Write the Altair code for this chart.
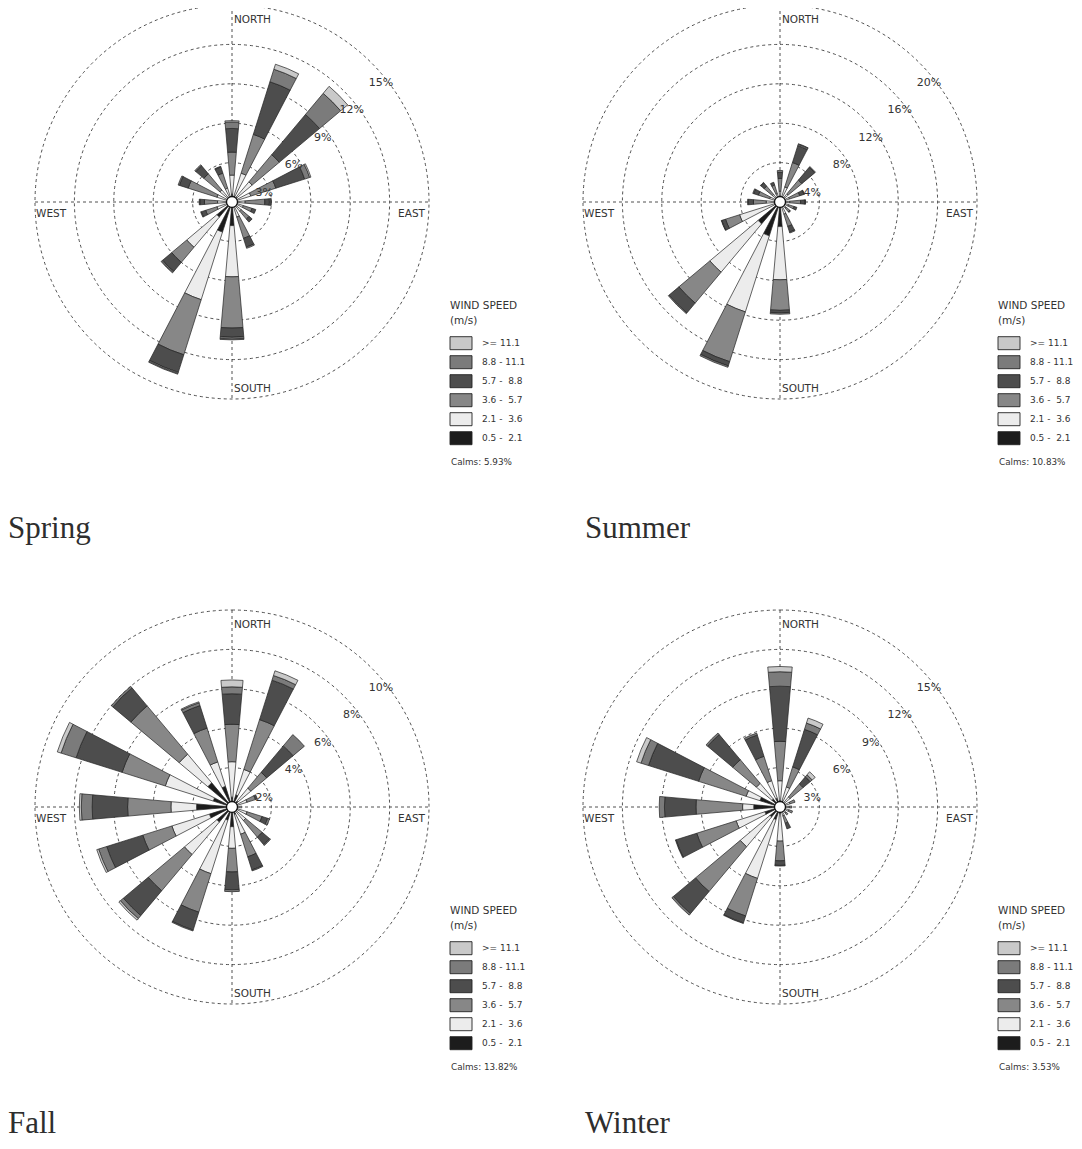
import math
import altair as alt
import pandas as pd

# ---------------- data ----------------
DIRECTIONS = ["N", "NNE", "NE", "ENE", "E", "ESE", "SE", "SSE",
              "S", "SSW", "SW", "WSW", "W", "WNW", "NW", "NNW"]
BEARINGS = [0.0, 22.5, 45.0, 67.5, 90.0, 112.5, 135.0, 157.5,
            180.0, 202.5, 225.0, 247.5, 270.0, 292.5, 315.0, 337.5]
CLASS_NAMES = ["0.5 - 2.1", "2.1 - 3.6", "3.6 - 5.7", "5.7 - 8.8", "8.8 - 11.1", ">= 11.1"]
LEGEND_LABELS = [">= 11.1", "8.8 - 11.1", "5.7 -\u00a0\u00a08.8", "3.6 -\u00a0\u00a05.7",
                 "2.1 -\u00a0\u00a03.6", "0.5 -\u00a0\u00a02.1"]
LEGEND_ORDER = [">= 11.1", "8.8 - 11.1", "5.7 - 8.8", "3.6 - 5.7", "2.1 - 3.6", "0.5 - 2.1"]

# frequency (%) per speed class, one value per direction (N .. NNW)
SPRING_C1 = [0.6, 0.5, 0.5, 0.4, 0.3, 0.3, 0.3, 0.3, 1.8, 2.4, 1.5, 0.4, 0.4, 0.3, 0.3, 0.3]
SPRING_C2 = [1.45, 1.8, 1.5, 1.1, 0.7, 0.6, 0.6, 0.9, 3.9, 5.4, 3.0, 0.8, 0.7, 0.9, 0.9, 0.8]
SPRING_C3 = [1.75, 3.1, 2.7, 2.0, 1.5, 0.7, 0.8, 1.7, 3.9, 4.4, 1.5, 0.9, 1.0, 2.3, 1.6, 1.2]
SPRING_C4 = [1.8, 4.2, 4.0, 2.3, 0.35, 0.3, 0.3, 0.7, 0.7, 1.4, 0.9, 0.35, 0.35, 0.7, 0.8, 0.5]
SPRING_C5 = [0.5, 1.0, 2.1, 0.4, 0.1, 0, 0, 0.1, 0.15, 0.1, 0.1, 0.05, 0.05, 0.1, 0.1, 0.05]
SPRING_C6 = [0.1, 0.4, 0.7, 0.1, 0.05, 0, 0, 0, 0.05, 0.05, 0.05, 0, 0, 0, 0, 0]

SUMMER_C1 = [0.3, 0.4, 0.3, 0.3, 0.3, 0.3, 0.3, 0.4, 2.5, 3.6, 2.9, 0.6, 0.4, 0.3, 0.3, 0.3]
SUMMER_C2 = [0.8, 1.2, 0.8, 0.7, 0.7, 0.6, 0.5, 0.9, 5.4, 8.1, 6.4, 3.7, 1.0, 0.8, 0.7, 0.6]
SUMMER_C3 = [1.3, 2.6, 1.8, 1.1, 1.1, 0.6, 0.5, 1.3, 3.1, 5.3, 4.1, 1.5, 1.3, 1.2, 1.1, 0.9]
SUMMER_C4 = [0.6, 1.8, 1.7, 0.45, 0.45, 0.3, 0.1, 0.6, 0.25, 0.45, 1.3, 0.4, 0.5, 0.5, 0.45, 0.3]
SUMMER_C5 = [0.2, 0.15, 0.1, 0.05, 0.05, 0, 0, 0.1, 0.15, 0.15, 0.1, 0.05, 0.1, 0.1, 0.05, 0]
SUMMER_C6 = [0, 0.05, 0, 0, 0, 0, 0, 0, 0, 0, 0, 0, 0, 0, 0, 0]

FALL_C1 = [0.5, 0.65, 0.4, 0.3, 0.2, 0.3, 0.3, 0.4, 1.0, 0.7, 1.0, 1.2, 1.8, 1.0, 1.6, 1.1]
FALL_C2 = [1.8, 1.35, 0.85, 0.5, 0.3, 0.5, 0.6, 1.05, 1.1, 2.85, 2.15, 2.0, 1.3, 2.55, 1.9, 1.3]
FALL_C3 = [1.9, 2.65, 1.05, 0.45, 0, 0.8, 1.1, 1.2, 1.2, 2.05, 2.4, 1.55, 2.2, 2.3, 3.2, 1.8]
FALL_C4 = [1.55, 2.1, 1.75, 0.1, 0, 0.3, 0.5, 0.7, 0.9, 0.95, 1.65, 1.92, 1.8, 2.45, 1.2, 1.2]
FALL_C5 = [0.35, 0.25, 0.75, 0, 0, 0.1, 0.05, 0.05, 0.1, 0.05, 0.2, 0.43, 0.55, 0.8, 0.1, 0.15]
FALL_C6 = [0.35, 0.25, 0, 0, 0, 0, 0, 0, 0, 0, 0.1, 0.1, 0.1, 0.2, 0, 0.05]

WINTER_C1 = [0.5, 0.5, 0.3, 0.3, 0.3, 0.3, 0.3, 0.3, 0.5, 1.0, 1.0, 1.2, 2.0, 1.6, 0.8, 0.7]
WINTER_C2 = [1.5, 1.1, 0.7, 0.5, 0.4, 0.4, 0.3, 0.4, 2.1, 4.7, 2.95, 2.3, 0.85, 1.1, 1.55, 1.4]
WINTER_C3 = [3.0, 1.6, 1.3, 0.4, 0.2, 0.3, 0.2, 0.6, 1.5, 3.0, 4.45, 3.15, 3.55, 3.8, 2.35, 1.95]
WINTER_C4 = [4.2, 3.0, 0.7, 0, 0, 0, 0, 0.45, 0.35, 0.55, 2.2, 1.65, 2.4, 4.0, 2.5, 1.7]
WINTER_C5 = [1.1, 0.5, 0.2, 0, 0, 0, 0, 0, 0.05, 0.05, 0.15, 0.05, 0.4, 0.6, 0.15, 0.15]
WINTER_C6 = [0.4, 0.4, 0.3, 0, 0, 0, 0, 0, 0, 0, 0, 0, 0, 0.35, 0, 0]

SEASON_NAMES = ["Spring", "Summer", "Fall", "Winter"]
CALMS = ["5.93%", "10.83%", "13.82%", "3.53%"]
RING_STEPS = [3, 4, 2, 3]

# ---------------- styling / layout ----------------
CLASS_COLORS = ["#1c1c1c", "#ececec", "#878787", "#4d4d4d", "#7b7b7b", "#c9c9c9"]
CENTERS = [(224, 194), (772, 194), (224, 799), (772, 799)]
TITLE_DX = [-224, -195, -224, -195]
TITLE_DY = [336, 336, 326, 326]
R_OUT = 197.0
HALF_WIDTH = 5.0
SANS = "DejaVu Sans"
SERIF = "Liberation Serif"
TXT = "#333333"
GRID = "#3c3c3c"

season_values = [
    [SPRING_C1, SPRING_C2, SPRING_C3, SPRING_C4, SPRING_C5, SPRING_C6],
    [SUMMER_C1, SUMMER_C2, SUMMER_C3, SUMMER_C4, SUMMER_C5, SUMMER_C6],
    [FALL_C1, FALL_C2, FALL_C3, FALL_C4, FALL_C5, FALL_C6],
    [WINTER_C1, WINTER_C2, WINTER_C3, WINTER_C4, WINTER_C5, WINTER_C6],
]

theta_scale = alt.Scale(type="linear", domain=[0, 360], range=[0, 2 * math.pi])
color_scale = alt.Scale(domain=CLASS_NAMES, range=CLASS_COLORS)
one = pd.DataFrame({"a": [0]})


def text_layer(df, size, font=SANS, align="left", baseline="alphabetic", color=TXT):
    return alt.Chart(df).mark_text(
        font=font, fontSize=size, align=align, baseline=baseline, color=color
    ).encode(
        x=alt.X("px:Q", scale=None, axis=None),
        y=alt.Y("py:Q", scale=None, axis=None),
        text="label:N",
    )


layers = []
for si, name in enumerate(SEASON_NAMES):
    cx, cy = CENTERS[si]
    step = RING_STEPS[si]
    rmax = step * 5
    rscale = alt.Scale(type="linear", domain=[0, rmax], range=[0, R_OUT], zero=True, nice=False)
    vals = season_values[si]

    # dashed rings
    rings = pd.DataFrame({"r": [step * k for k in range(1, 6)]})
    layers.append(
        alt.Chart(rings).mark_arc(fillOpacity=0, stroke=GRID, strokeWidth=0.9, strokeDash=[3, 3]).encode(
            x=alt.value(cx), y=alt.value(cy),
            theta=alt.value(0), theta2=alt.value(2 * math.pi),
            radius=alt.Radius("r:Q", scale=rscale, stack=False),
        )
    )
    # dashed cross
    layers.append(
        alt.Chart(one).mark_rule(stroke=GRID, strokeWidth=0.9, strokeDash=[3, 3]).encode(
            x=alt.value(cx), y=alt.value(cy - R_OUT), y2=alt.value(cy + R_OUT)
        )
    )
    layers.append(
        alt.Chart(one).mark_rule(stroke=GRID, strokeWidth=0.9, strokeDash=[3, 3]).encode(
            x=alt.value(cx - R_OUT), x2=alt.value(cx + R_OUT), y=alt.value(cy)
        )
    )

    # petals
    rows = []
    for i, b in enumerate(BEARINGS):
        cum = 0.0
        for k, cname in enumerate(CLASS_NAMES):
            v = vals[k][i]
            if v <= 0:
                continue
            rows.append({"dir": DIRECTIONS[i], "cls": cname,
                         "t0": b - HALF_WIDTH, "t1": b + HALF_WIDTH,
                         "r0": cum, "r1": cum + v})
            cum += v
    petals = pd.DataFrame(rows)
    layers.append(
        alt.Chart(petals).mark_arc(stroke="#222222", strokeWidth=0.7).encode(
            x=alt.value(cx), y=alt.value(cy),
            theta=alt.Theta("t0:Q", scale=theta_scale, stack=False),
            theta2="t1:Q",
            radius=alt.Radius("r1:Q", scale=rscale, stack=False),
            radius2="r0:Q",
            color=alt.Color("cls:N", scale=color_scale, legend=None),
        )
    )
    # calm circle
    layers.append(
        alt.Chart(one).mark_arc(fill="white", stroke="#111111", strokeWidth=1.3).encode(
            x=alt.value(cx), y=alt.value(cy),
            theta=alt.value(0), theta2=alt.value(2 * math.pi),
            radius=alt.value(5.5),
        )
    )

    # ring labels
    pct = pd.DataFrame({
        "label": [f"{step * k}%" for k in range(1, 6)],
        "px": [cx + 29.2 * k + 3 for k in range(1, 6)],
        "py": [cy - 27.5 * k + 18 for k in range(1, 6)],
    })
    layers.append(text_layer(pct, 11, align="center", baseline="middle"))

    # compass labels
    comp_left = pd.DataFrame({
        "label": ["NORTH", "SOUTH", "WEST"],
        "px": [cx + 2, cx + 2, cx - 196],
        "py": [cy - 179, cy + 190, cy + 15],
    })
    layers.append(text_layer(comp_left, 10.5))
    comp_right = pd.DataFrame({"label": ["EAST"], "px": [cx + 193], "py": [cy + 15]})
    layers.append(text_layer(comp_right, 10.5, align="right"))

    # legend
    head = pd.DataFrame({
        "label": ["WIND SPEED", "(m/s)"],
        "px": [cx + 218, cx + 218],
        "py": [cy + 107, cy + 122],
    })
    layers.append(text_layer(head, 10.5))
    sw = pd.DataFrame({
        "cls": LEGEND_ORDER,
        "x0": [cx + 218] * 6,
        "x1": [cx + 240] * 6,
        "y0": [cy + 134.7 + 19 * j for j in range(6)],
        "y1": [cy + 147.7 + 19 * j for j in range(6)],
    })
    layers.append(
        alt.Chart(sw).mark_rect(stroke="#222222", strokeWidth=0.9).encode(
            x=alt.X("x0:Q", scale=None, axis=None), x2="x1:Q",
            y=alt.Y("y0:Q", scale=None, axis=None), y2="y1:Q",
            color=alt.Color("cls:N", scale=color_scale, legend=None),
        )
    )
    lab = pd.DataFrame({
        "label": LEGEND_LABELS,
        "px": [cx + 250] * 6,
        "py": [cy + 141.2 + 19 * j for j in range(6)],
    })
    layers.append(text_layer(lab, 9.0, baseline="middle"))
    calm = pd.DataFrame({"label": [f"Calms: {CALMS[si]}"], "px": [cx + 219], "py": [cy + 263]})
    layers.append(text_layer(calm, 8.8))

    # season title
    ttl = pd.DataFrame({"label": [name], "px": [cx + TITLE_DX[si]], "py": [cy + TITLE_DY[si]]})
    layers.append(text_layer(ttl, 31, font=SERIF, color="#2e2e2e"))

chart = alt.layer(*layers).resolve_scale(
    radius="independent"
).properties(
    width=1066, height=1133, padding=0,
    autosize=alt.AutoSizeParams(type="none"),
).configure_view(strokeWidth=0)

chart.save("out.html", embed_options={"renderer": "svg", "actions": False})
